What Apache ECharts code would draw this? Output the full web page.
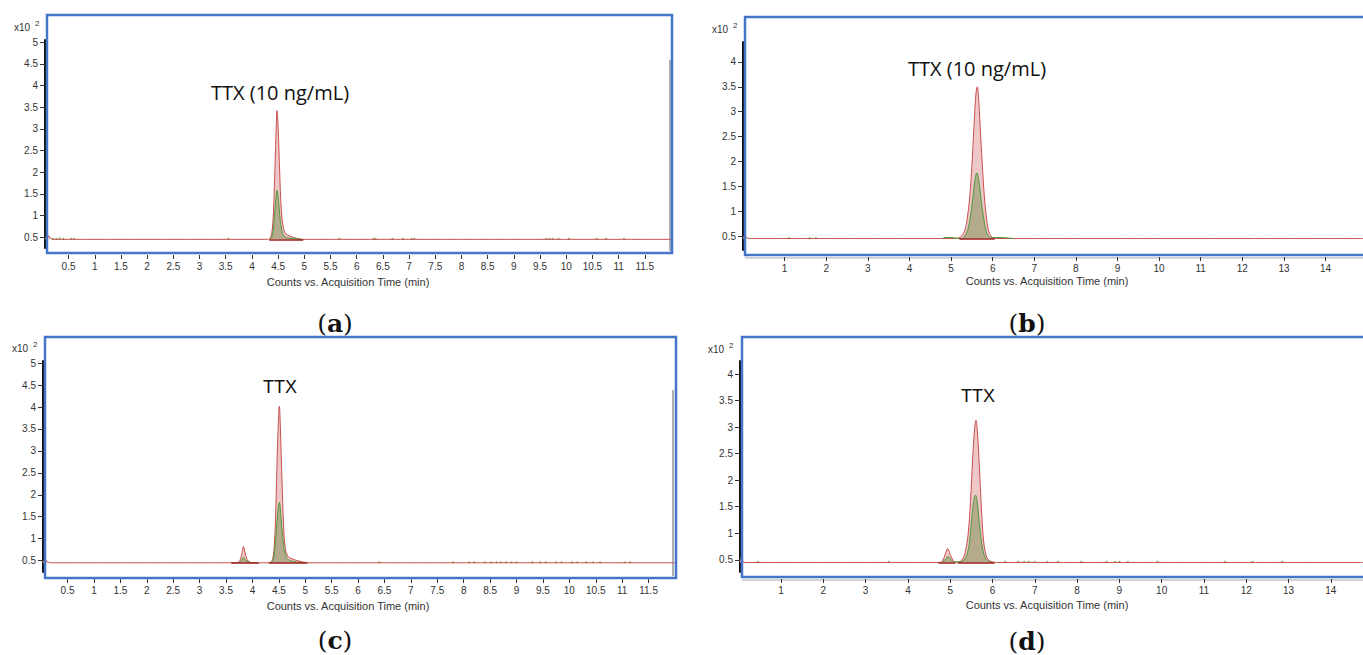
<!DOCTYPE html>
<html>
<head>
<meta charset="UTF-8">
<title>TTX chromatograms</title>
<script src="https://cdn.jsdelivr.net/npm/echarts@6/dist/echarts.min.js"></script>
<style>
*{margin:0;padding:0}
html,body{width:100%;height:100%;background:#fff}
#main{width:1363px;height:655px}
</style>
</head>
<body>
<div id="main"></div>
<script>
// tick values
var xTicksA = [0.5,1,1.5,2,2.5,3,3.5,4,4.5,5,5.5,6,6.5,7,7.5,8,8.5,9,9.5,10,10.5,11,11.5];
var xTicksB = [1,2,3,4,5,6,7,8,9,10,11,12,13,14];
var yTicks5 = [0.5,1,1.5,2,2.5,3,3.5,4,4.5,5];
var yTicks4 = [0.5,1,1.5,2,2.5,3,3.5,4];

var xTitle = 'Counts vs. Acquisition Time (min)';
var peakLabels = ['TTX (10 ng/mL)', 'TTX (10 ng/mL)', 'TTX', 'TTX'];
var captions = ['a', 'b', 'c', 'd'];

// (a) standard, 12 min run  [time, counts x10^2]
var aRed = [[0.05,0.47],[0.09,0.5],[0.12,0.53],[0.15,0.48],[0.2,0.45],[4.3,0.45],[4.36,0.5],[4.4,0.85],[4.43,1.7],[4.46,2.9],[4.48,3.42],[4.5,3.05],[4.53,2.0],[4.56,1.15],[4.6,0.72],[4.65,0.57],[4.72,0.53],[4.8,0.49],[4.9,0.46],[5.0,0.45],[12,0.45]];
var aGreen = [[4.34,0.45],[4.38,0.5],[4.42,0.82],[4.45,1.3],[4.48,1.58],[4.5,1.45],[4.53,1.02],[4.57,0.66],[4.62,0.52],[4.7,0.48],[4.8,0.47],[4.96,0.45]];
var aNoise = [[0.11,0.5],[0.2,0.46],[0.27,0.46],[0.33,0.47],[0.4,0.46],[0.55,0.46],[0.6,0.46],[3.55,0.46],[5.67,0.46],[6.32,0.46],[6.36,0.46],[6.68,0.46],[6.88,0.46],[7.05,0.46],[7.1,0.46],[9.62,0.46],[9.68,0.46],[9.74,0.46],[9.85,0.46],[10.05,0.46],[10.58,0.46],[10.76,0.46],[11.1,0.46]];
var aWin = [[4.33,4.98]];

// (b) standard, 15 min run
var bRed = [[0,0.47],[0.05,0.5],[0.1,0.46],[0.2,0.45],[5.1,0.45],[5.2,0.47],[5.3,0.55],[5.38,0.8],[5.45,1.3],[5.5,1.9],[5.55,2.7],[5.6,3.38],[5.63,3.5],[5.66,3.3],[5.7,2.7],[5.75,1.95],[5.8,1.3],[5.86,0.8],[5.92,0.56],[6.0,0.47],[6.1,0.45],[14.9,0.45]];
var bGreen = [[4.8,0.45],[4.85,0.47],[5.0,0.47],[5.1,0.46],[5.25,0.45],[5.33,0.5],[5.4,0.62],[5.47,0.92],[5.53,1.32],[5.58,1.66],[5.62,1.77],[5.67,1.6],[5.72,1.25],[5.78,0.88],[5.84,0.62],[5.9,0.5],[6.0,0.47],[6.2,0.47],[6.4,0.46],[6.5,0.45]];
var bNoise = [[1.1,0.46],[1.6,0.46],[1.75,0.46]];
var bWin = [[5.2,6.05]];

// (c) sample, 12 min run
var cRed = [[0.03,0.46],[0.08,0.52],[0.12,0.47],[0.2,0.45],[3.7,0.45],[3.76,0.5],[3.8,0.66],[3.83,0.82],[3.86,0.68],[3.9,0.52],[3.96,0.46],[4.05,0.45],[4.32,0.45],[4.38,0.52],[4.42,0.95],[4.45,2.0],[4.48,3.3],[4.51,4.02],[4.53,3.5],[4.56,2.3],[4.59,1.3],[4.62,0.8],[4.67,0.6],[4.75,0.54],[4.85,0.5],[4.95,0.47],[5.05,0.45],[12,0.45]];
var cGreen = [[3.72,0.45],[3.78,0.48],[3.83,0.57],[3.88,0.5],[3.95,0.46],[4.02,0.45],[4.1,'-'],[4.34,0.45],[4.4,0.55],[4.44,1.0],[4.48,1.6],[4.51,1.83],[4.54,1.5],[4.58,0.95],[4.62,0.65],[4.68,0.52],[4.78,0.48],[4.9,0.46],[5.0,0.45]];
var cNoise = [[0.08,0.5],[6.4,0.46],[7.8,0.46],[8.1,0.46],[8.2,0.46],[8.4,0.46],[8.52,0.46],[8.62,0.46],[8.7,0.46],[8.8,0.46],[8.9,0.46],[9.0,0.46],[9.3,0.46],[9.45,0.46],[9.55,0.46],[9.75,0.46],[9.85,0.46],[10.05,0.46],[10.15,0.46],[10.32,0.46],[10.45,0.46],[10.58,0.46],[11.05,0.46],[11.15,0.46]];
var cWin = [[3.6,4.12],[4.31,5.04]];

// (d) sample, 15 min run
var dRed = [[0.03,0.47],[0.06,0.52],[0.1,0.46],[0.2,0.45],[4.75,0.45],[4.82,0.48],[4.88,0.6],[4.94,0.71],[5.0,0.6],[5.06,0.5],[5.12,0.46],[5.2,0.46],[5.28,0.5],[5.35,0.62],[5.42,0.95],[5.48,1.6],[5.53,2.4],[5.58,3.0],[5.61,3.13],[5.64,2.95],[5.68,2.4],[5.72,1.75],[5.76,1.15],[5.8,0.78],[5.85,0.58],[5.9,0.5],[6.0,0.46],[6.1,0.45],[14.76,0.45]];
var dGreen = [[4.8,0.45],[4.88,0.5],[4.95,0.56],[5.02,0.5],[5.1,0.46],[5.2,0.46],[5.3,0.48],[5.38,0.56],[5.45,0.8],[5.5,1.2],[5.55,1.58],[5.6,1.72],[5.64,1.6],[5.68,1.25],[5.73,0.9],[5.78,0.66],[5.84,0.52],[5.9,0.47],[6.0,0.45]];
var dNoise = [[0.05,0.52],[0.45,0.46],[3.55,0.46],[6.3,0.46],[6.6,0.46],[6.75,0.46],[6.85,0.46],[7.0,0.46],[7.3,0.46],[7.55,0.46],[8.1,0.46],[8.7,0.46],[8.9,0.46],[9.0,0.46],[9.2,0.46],[9.9,0.46],[11.5,0.46],[12.15,0.46],[12.85,0.46]];
var dWin = [[4.72,5.12],[5.18,6.05]];

var BASE = 0.45;
var blue = '#4475c8';

// layout of the four panels
var panels = [
    {grid:{left:45, top:40, width:626, height:208}, x:[0.05,12], y:[0.25,5.05], xt:xTicksA, yt:yTicks5,
     red:aRed, green:aGreen, noise:aNoise, win:aWin,
     frame:[47,15,625,238], exp:[14,27.5], peak:[280,92], title:[348,282], cap:[335,323]},
    {grid:{left:743, top:42, width:621, height:208}, x:[0,14.9], y:[0.22,4.4], xt:xTicksB, yt:yTicks4,
     red:bRed, green:bGreen, noise:bNoise, win:bWin,
     frame:[745,17,630,238], exp:[712,29], peak:[977,68], title:[1047,281], cap:[1027,323]},
    {grid:{left:43, top:361, width:632, height:211}, x:[0.035,12], y:[0.24,5.05], xt:xTicksA, yt:yTicks5,
     red:cRed, green:cGreen, noise:cNoise, win:cWin,
     frame:[45,337,631,241], exp:[12,348], peak:[280,387], title:[348,606], cap:[335,640]},
    {grid:{left:740, top:361, width:624, height:211}, x:[0.03,14.76], y:[0.27,4.245], xt:xTicksB, yt:yTicks4,
     red:dRed, green:dGreen, noise:dNoise, win:dWin,
     frame:[742,337,630,240], exp:[708,349], peak:[978,396], title:[1047,605], cap:[1027,641]}
];

var grids = [], xAxes = [], yAxes = [], series = [], graphics = [];

panels.forEach(function (p, i) {
    grids.push(p.grid);
    xAxes.push({
        gridIndex: i, type: 'value', min: p.x[0], max: p.x[1], offset: 7,
        axisLine: {show: false},
        axisTick: {show: true, length: 4, customValues: p.xt, lineStyle: {color: '#333'}},
        axisLabel: {customValues: p.xt, fontSize: 10, color: '#333', margin: 6, fontFamily: 'Liberation Sans'},
        splitLine: {show: false}
    });
    yAxes.push({
        gridIndex: i, type: 'value', min: p.y[0], max: p.y[1],
        axisLine: {show: true, lineStyle: {color: '#111', width: 2}},
        axisTick: {show: true, length: 5, customValues: p.yt, lineStyle: {color: '#333'}},
        axisLabel: {customValues: p.yt, fontSize: 10, color: '#333', margin: 7, fontFamily: 'Liberation Sans'},
        splitLine: {show: false}
    });
    // quantifier trace (red)
    series.push({
        type: 'line', xAxisIndex: i, yAxisIndex: i, data: p.red,
        smooth: 0.35, symbol: 'none', silent: true,
        lineStyle: {color: '#c94f4f', width: 1},
        areaStyle: {color: '#eec8c8', opacity: 1, origin: BASE},
        markLine: {
            silent: true, symbol: 'none', label: {show: false},
            lineStyle: {color: '#9c1c1c', width: 1.5, type: 'solid'},
            data: p.win.map(function (w) { return [{coord: [w[0], BASE]}, {coord: [w[1], BASE]}]; })
        }
    });
    // qualifier trace (green)
    series.push({
        type: 'line', xAxisIndex: i, yAxisIndex: i, data: p.green,
        smooth: 0.35, symbol: 'none', silent: true,
        lineStyle: {color: '#4f9a3c', width: 1},
        areaStyle: {color: '#b4aa8c', opacity: 1, origin: BASE}
    });
    series.push({
        type: 'scatter', xAxisIndex: i, yAxisIndex: i, data: p.noise,
        symbolSize: 2, silent: true, itemStyle: {color: '#5aa040'}
    });

    graphics.push({
        type: 'rect', silent: true, z: 10,
        shape: {x: p.frame[0], y: p.frame[1], width: p.frame[2], height: p.frame[3]},
        style: {fill: 'none', stroke: blue, lineWidth: 2.5}
    });
    graphics.push({type: 'text', x: p.exp[0], y: p.exp[1], silent: true,
        style: {text: 'x10', fontSize: 10, fill: '#333', fontFamily: 'Liberation Sans', verticalAlign: 'middle'}});
    graphics.push({type: 'text', x: p.exp[0] + 21, y: p.exp[1] - 4, silent: true,
        style: {text: '2', fontSize: 8, fill: '#333', fontFamily: 'Liberation Sans', verticalAlign: 'middle'}});
    graphics.push({type: 'text', x: p.peak[0], y: p.peak[1], silent: true,
        style: {text: peakLabels[i], fontSize: i < 2 ? 20 : 18, fill: '#111',
            fontFamily: i < 2 ? 'Open Sans' : 'Liberation Sans', align: 'center', verticalAlign: 'middle'}});
    graphics.push({type: 'text', x: p.title[0], y: p.title[1], silent: true,
        style: {text: xTitle, fontSize: 11, fill: '#333', fontFamily: 'Liberation Sans', align: 'center', verticalAlign: 'middle'}});
    graphics.push({type: 'text', x: p.cap[0], y: p.cap[1], silent: true,
        style: {text: '{n|(}{b|' + captions[i] + '}{n|)}', align: 'center', verticalAlign: 'middle',
            rich: {
                n: {fontSize: 25, fontFamily: 'DejaVu Serif', fill: '#111'},
                b: {fontSize: 25, fontFamily: 'DejaVu Serif', fontWeight: 'bold', fill: '#111'}
            }}});
});

// grey scroll strips at the right of the 12 min panels, under the 15 min ones
graphics.push({type: 'line', silent: true, shape: {x1: 670, y1: 60, x2: 670, y2: 251}, style: {stroke: '#b0b0b0', lineWidth: 2}});
graphics.push({type: 'line', silent: true, shape: {x1: 673, y1: 390, x2: 673, y2: 576}, style: {stroke: '#b0b0b0', lineWidth: 2}});
graphics.push({type: 'line', silent: true, shape: {x1: 745, y1: 258, x2: 1363, y2: 258}, style: {stroke: '#a8a8a8', lineWidth: 1}});
graphics.push({type: 'line', silent: true, shape: {x1: 742, y1: 580, x2: 1363, y2: 580}, style: {stroke: '#a8a8a8', lineWidth: 1}});

var option = {
    animation: false,
    backgroundColor: '#fff',
    grid: grids,
    xAxis: xAxes,
    yAxis: yAxes,
    series: series,
    graphic: graphics
};

var myChart = echarts.init(document.getElementById('main'), null, {renderer: 'svg'});
myChart.setOption(option);
</script>
</body>
</html>
